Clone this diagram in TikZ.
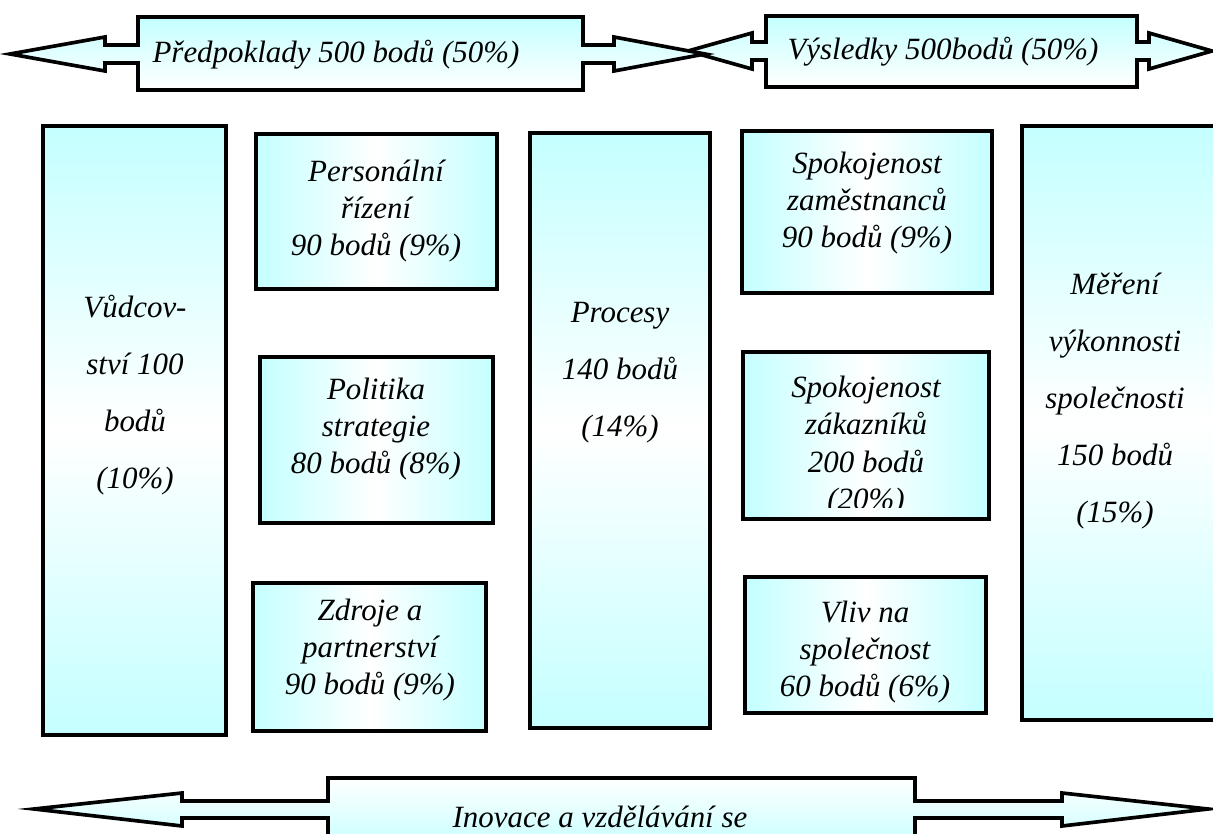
\documentclass[tikz,border=0pt]{standalone}
\usepackage{fontspec}
\setmainfont{Liberation Serif}
\definecolor{lcyan}{HTML}{C4FFFF}
\begin{document}
\begin{tikzpicture}[x=0.025cm,y=-0.025cm,
 hbox/.style={draw=black,line width=2.6pt,left color=lcyan,right color=lcyan,middle color=white},
 vbox/.style={draw=black,line width=2.6pt,top color=lcyan,bottom color=lcyan,middle color=white},
 uparrow/.style={draw=black,line width=2.6pt,top color=lcyan,bottom color=white},
 downarrow/.style={draw=black,line width=2.6pt,top color=white,bottom color=lcyan},
 txt/.style={font=\fontsize{22}{26.5}\selectfont\itshape,align=center,inner sep=0pt},
 talltxt/.style={font=\fontsize{22}{40.5}\selectfont\itshape,align=center,inner sep=0pt}]
 \clip (0,0) rectangle (1213,834);
 \draw[uparrow] (688,51) -- (752,33) -- (752,42) -- (766,42) -- (766,16) -- (1137,16) -- (1137,42) -- (1149,42) -- (1149,33) -- (1212,51) -- (1149,69) -- (1149,60) -- (1137,60) -- (1137,87) -- (766,87) -- (766,60) -- (752,60) -- (752,69) -- cycle;
 \draw[uparrow] (10,54) -- (105,37) -- (105,45) -- (138,45) -- (138,17) -- (583,17) -- (583,45) -- (614,45) -- (614,37) -- (705,54) -- (614,71) -- (614,63) -- (583,63) -- (583,90) -- (138,90) -- (138,63) -- (105,63) -- (105,71) -- cycle;
 \draw[downarrow] (34,809) -- (182,793) -- (182,801) -- (328,801) -- (328,778) -- (915,778) -- (915,801) -- (1062,801) -- (1062,793) -- (1208,809) -- (1062,826) -- (1062,818) -- (915,818) -- (915,850) -- (328,850) -- (328,818) -- (182,818) -- (182,826) -- cycle;
 \node[txt] (pred) at (336,55) {Předpoklady 500 bodů (50\%)};
 \node[txt] (vysl) at (943,52) {Výsledky 500bodů (50\%)};
 \node[txt] (inov) at (600,817) {Inovace a vzdělávání se};
 \draw[vbox] (43,126) rectangle (226,735);
 \draw[vbox] (530,133) rectangle (710,728);
 \draw[vbox] (1022,126) rectangle (1218,720);
 \draw[hbox] (256,134) rectangle (497,289);
 \draw[hbox] (260,357) rectangle (493,523);
 \draw[hbox] (253,583) rectangle (486,731);
 \draw[hbox] (742,131) rectangle (992,293);
 \draw[hbox] (743,352) rectangle (989,519);
 \draw[hbox] (745,577) rectangle (986,713);
 \node[talltxt] (vudc) at (135,395) {Vůdcov-\\ství 100\\bodů\\(10\%)};
 \node[talltxt] (proc) at (620,373) {Procesy\\140 bodů\\(14\%)};
 \node[talltxt] (mere) at (1115,401) {Měření\\výkonnosti\\společnosti\\150 bodů\\(15\%)};
 \node[txt] (pers) at (376,211) {Personální\\řízení\\90 bodů (9\%)};
 \node[txt] (poli) at (376,429) {Politika\\strategie\\80 bodů (8\%)};
 \node[txt] (zdro) at (370,650) {Zdroje a\\partnerství\\90 bodů (9\%)};
 \node[txt] (spzam) at (867,203) {Spokojenost\\zaměstnanců\\90 bodů (9\%)};
 \begin{scope}
 \clip (743,352) rectangle (989,507);
 \node[txt] (spzak) at (866,446) {Spokojenost\\zákazníků\\200 bodů\\(20\%)};
 \end{scope}
 \node[txt] (vliv) at (865,652) {Vliv na\\společnost\\60 bodů (6\%)};
\end{tikzpicture}
\end{document}
